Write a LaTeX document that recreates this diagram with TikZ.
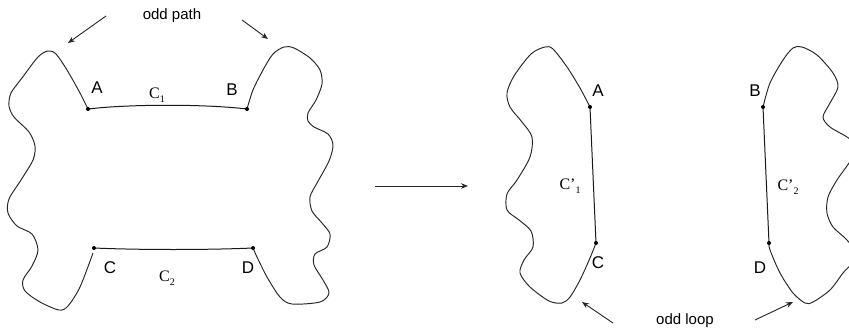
\documentclass[tikz,border=0pt]{standalone}
\usepackage{fontspec}
\setmainfont{Liberation Sans}
\newfontfamily\seriffont{Liberation Serif}
\usetikzlibrary{arrows.meta,positioning}
\newcommand{\pathname}[2]{{\seriffont\fontsize{16}{16}\selectfont #1\raisebox{-0.5ex}{\fontsize{10}{10}\selectfont #2}}}

\begin{document}
\begin{tikzpicture}[x=1pt, y=-1pt, line width=0.9pt,
  wavy/.style={draw=black!85, line width=0.95pt},
  chord/.style={draw=black!90, line width=1pt},
  lbl/.style={inner sep=0pt, font=\fontsize{17}{17}\selectfont},
  note/.style={inner sep=0pt, font=\fontsize{15}{15}\selectfont},
  pointer/.style={-{Stealth[length=7pt,width=5.5pt]}, line width=0.9pt, black!85}]
\clip (0,0) rectangle (849,332);
\fill[white] (0,0) rectangle (849,332);

% before: one region, two chords
\coordinate (A) at (88,109);
\coordinate (B) at (247,109);
\coordinate (C) at (94,248);
\coordinate (D) at (253,248);
\draw[wavy] plot[smooth] coordinates {(A) (80,93) (67,70) (56,54) (48,51) (38,57) (22,78) (11,93) (9,106) (14,117) (29,132) (35,146) (33,160) (21,180) (9,199) (8,213) (17,226) (32,234) (38,250) (32,266) (23,280) (25,291) (40,302) (59,310) (68,306) (80,287) (93,253)};
\draw[wavy] plot[smooth] coordinates {(B) (253,90) (263,70) (273,54) (284,47) (294,48) (310,58) (320,70) (322,84) (316,100) (308,113) (308,121) (314,127) (328,134) (333,145) (329,161) (317,183) (310,197) (312,211) (322,223) (330,234) (327,247) (315,254) (314,265) (323,280) (329,293) (320,302) (292,304) (280,297) (267,277) (257,257) (D)};
\draw[chord] (A) .. controls (130,104) and (205,104) .. (B);
\draw[chord] (C) .. controls (140,250) and (207,250) .. (D);
\foreach \p in {A,B,C,D} \fill (\p) circle (2pt);
\node[lbl] (labA) at (97,88) {A};
\node[lbl] (labB) at (232,90) {B};
\node[lbl] (labC) at (110,268) {C};
\node[lbl] (labD) at (248,268) {D};
\node (c1) at (157,95) {\pathname{C}{1}};
\node (c2) at (167,278) {\pathname{C}{2}};

\node[note] (oddpath) at (172,16) {odd path};
\coordinate (pathLs) at (106,16);
\coordinate (pathLe) at (68,43);
\coordinate (pathRs) at (242,20);
\coordinate (pathRe) at (268,39);
\draw[pointer] (pathLs) -- (pathLe);
\draw[pointer] (pathRs) -- (pathRe);

% the step
\coordinate (stepS) at (375,186);
\coordinate (stepE) at (468,186);
\draw[pointer] (stepS) -- (stepE);

% after: two loops
\coordinate (A2) at (590,107);
\coordinate (C2) at (596,243);
\coordinate (B2) at (763,107);
\coordinate (D2) at (769,243);
\draw[wavy] plot[smooth] coordinates {(A2) (580,88) (567,67) (553,49) (545,47) (531,54) (514,76) (507,93) (510,107) (522,122) (532,137) (530,157) (517,180) (507,194) (507,210) (519,220) (531,231) (533,247) (524,260) (520,273) (530,287) (549,301) (562,303) (570,297) (580,280) (590,258) (C2)};
\draw[wavy] plot[smooth] coordinates {(B2) (770,83) (783,60) (793,48) (802,47) (817,55) (833,73) (838,87) (830,103) (823,117) (830,127) (847,137) (857,146) (851,160) (837,180) (828,197) (827,213) (833,227) (847,240) (857,256) (843,273) (830,290) (813,302) (805,303) (793,293) (780,273) (770,250) (D2)};
\draw[chord] (A2) -- (C2);
\draw[chord] (B2) -- (D2);
\foreach \p in {A2,B2,C2,D2} \fill (\p) circle (2pt);
\node[lbl] (labA2) at (598,91) {A};
\node[lbl] (labC2) at (598,263) {C};
\node[lbl] (labB2) at (755,91) {B};
\node[lbl] (labD2) at (760,268) {D};
\node (c1p) at (570,186) {\pathname{C’}{1}};
\node (c2p) at (788,187) {\pathname{C’}{2}};

\node[note] (oddloop) at (685,321) {odd loop};
\coordinate (loopLs) at (613,323);
\coordinate (loopLe) at (582,302);
\coordinate (loopRs) at (755,320);
\coordinate (loopRe) at (793,302);
\draw[pointer] (loopLs) -- (loopLe);
\draw[pointer] (loopRs) -- (loopRe);
\end{tikzpicture}
\end{document}
